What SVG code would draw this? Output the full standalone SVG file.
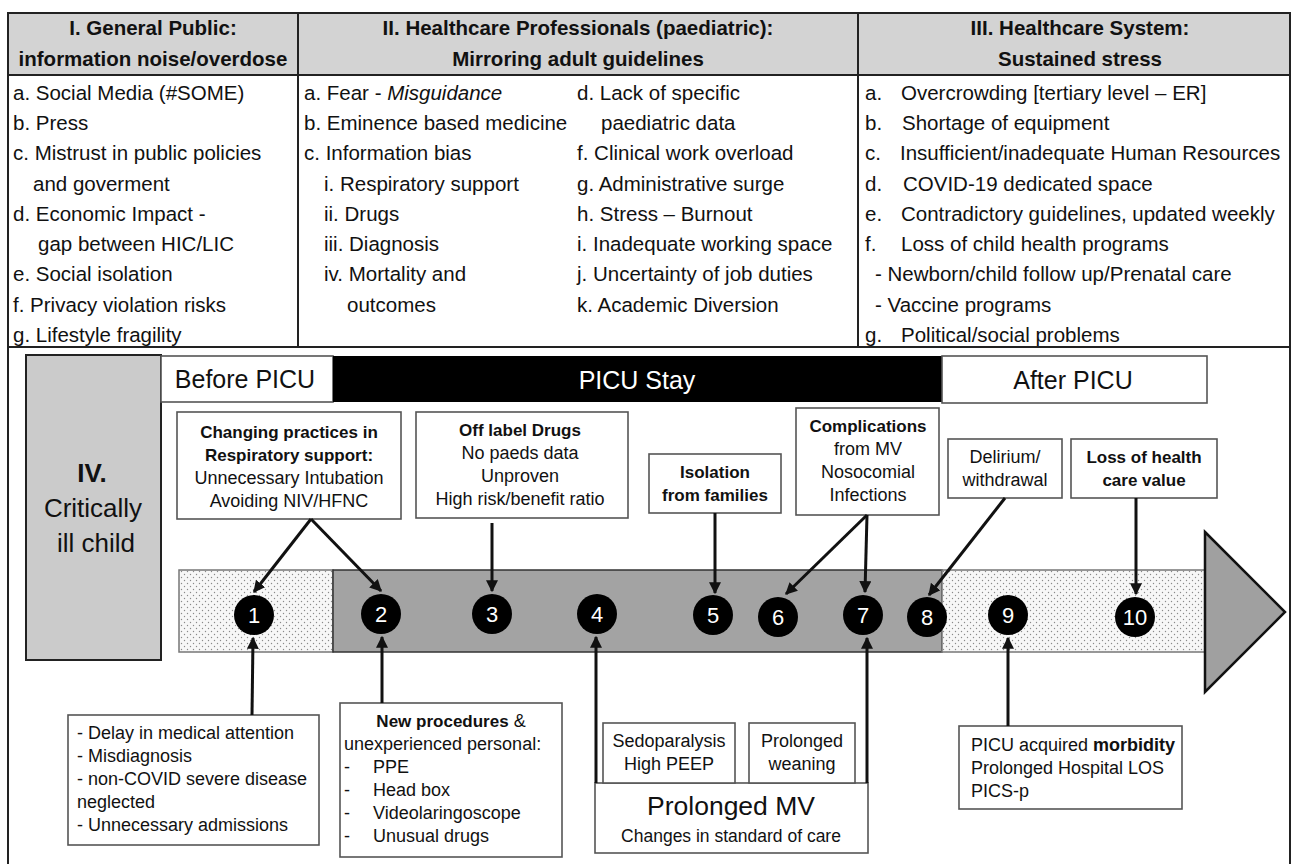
<svg xmlns="http://www.w3.org/2000/svg" width="1293" height="864" viewBox="0 0 1293 864">
<defs>
<style>
text{font-family:"Liberation Sans",Arial,sans-serif;fill:#111}
.b{font-weight:bold}
.tb{font-size:20.5px}
.th{font-size:20.5px;font-weight:bold;text-anchor:middle}
.bx{font-size:18px}
.bb{font-size:17px;font-weight:bold}
.c{text-anchor:middle}
.box{fill:#fff;stroke:#555;stroke-width:1.6}
.ln{stroke:#222;stroke-width:2;fill:none}
.con{stroke:#111;stroke-width:3;fill:none}
.num{font-size:22px;fill:#fff;text-anchor:middle}
.hd{font-size:25px}
</style>
<pattern id="dots" width="6" height="6" patternUnits="userSpaceOnUse">
<rect width="6" height="6" fill="#f7f7f7"/>
<circle cx="1.5" cy="1.5" r="0.7" fill="#8a8a8a"/>
<circle cx="4.5" cy="4.5" r="0.7" fill="#8a8a8a"/>
</pattern>
<marker id="ah" viewBox="0 0 10 10" refX="9" refY="5" markerWidth="12" markerHeight="12" markerUnits="userSpaceOnUse" orient="auto">
<path d="M0,0 L10,5 L0,10 z" fill="#111"/>
</marker>
</defs>
<rect width="1293" height="864" fill="#fff"/>

<g id="table">
<rect x="8" y="13" width="1283" height="62" fill="#d3d3d3"/>
<rect x="8" y="13" width="1282" height="870" class="ln"/>
<line x1="8" y1="75" x2="1291" y2="75" class="ln"/>
<line x1="8" y1="347" x2="1291" y2="347" class="ln"/>
<line x1="298" y1="13" x2="298" y2="347" class="ln"/>
<line x1="858" y1="13" x2="858" y2="347" class="ln"/>
</g>

<g id="col1">
<text class="th" x="153" y="35">I.  General Public:</text>
<text class="th" x="153" y="66">information noise/overdose</text>
<text class="tb" x="13" y="100">a. Social Media (#SOME)</text>
<text class="tb" x="13" y="130">b. Press</text>
<text class="tb" x="13" y="160">c. Mistrust in public policies</text>
<text class="tb" x="33" y="191">and goverment</text>
<text class="tb" x="13" y="221">d. Economic Impact -</text>
<text class="tb" x="38" y="251">gap between HIC/LIC</text>
<text class="tb" x="13" y="281">e. Social isolation</text>
<text class="tb" x="13" y="312">f. Privacy violation risks</text>
<text class="tb" x="13" y="342">g. Lifestyle fragility</text>
</g>

<g id="col2">
<text class="th" x="578" y="35">II. Healthcare Professionals (paediatric):</text>
<text class="th" x="578" y="66">Mirroring adult guidelines</text>
<text class="tb" x="304" y="100">a. Fear - <tspan font-style="italic">Misguidance</tspan></text>
<text class="tb" x="304" y="130">b. Eminence based medicine</text>
<text class="tb" x="304" y="160">c. Information bias</text>
<text class="tb" x="324" y="191">i.  Respiratory support</text>
<text class="tb" x="324" y="221">ii. Drugs</text>
<text class="tb" x="324" y="251">iii. Diagnosis</text>
<text class="tb" x="324" y="281">iv. Mortality and</text>
<text class="tb" x="347" y="312">outcomes</text>
<text class="tb" x="577" y="100">d. Lack of specific</text>
<text class="tb" x="601" y="130">paediatric data</text>
<text class="tb" x="577" y="160">f.  Clinical work overload</text>
<text class="tb" x="577" y="191">g. Administrative surge</text>
<text class="tb" x="577" y="221">h. Stress – Burnout</text>
<text class="tb" x="577" y="251">i.  Inadequate working space</text>
<text class="tb" x="577" y="281">j.  Uncertainty of job duties</text>
<text class="tb" x="577" y="312">k. Academic Diversion</text>
</g>

<g id="col3">
<text class="th" x="1080" y="35">III. Healthcare System:</text>
<text class="th" x="1080" y="66">Sustained stress</text>
<text class="tb" x="865" y="100">a.</text><text class="tb" x="901" y="100">Overcrowding [tertiary level – ER]</text>
<text class="tb" x="865" y="130">b.</text><text class="tb" x="902" y="130">Shortage of equipment</text>
<text class="tb" x="865" y="160">c.</text><text class="tb" x="900" y="160">Insufficient/inadequate Human Resources</text>
<text class="tb" x="865" y="191">d.</text><text class="tb" x="903" y="191">COVID-19 dedicated space</text>
<text class="tb" x="865" y="221">e.</text><text class="tb" x="901" y="221">Contradictory guidelines, updated weekly</text>
<text class="tb" x="865" y="251">f.</text><text class="tb" x="901" y="251">Loss of child health programs</text>
<text class="tb" x="875" y="281">- Newborn/child follow up/Prenatal care</text>
<text class="tb" x="875" y="312">- Vaccine programs</text>
<text class="tb" x="865" y="342">g.</text><text class="tb" x="901" y="342">Political/social problems</text>
</g>

<g id="critically-ill-child">
<rect x="26" y="355" width="135" height="305" fill="#cbcbcb" stroke="#222" stroke-width="2"/>
<text class="c b" x="92" y="482" font-size="26">IV.</text>
<text class="c" x="93" y="517" font-size="26">Critically</text>
<text class="c" x="96" y="552" font-size="26">ill child</text>
</g>

<g id="phases">
<rect x="161" y="356" width="172" height="46" class="box"/>
<text class="hd c" x="245" y="388">Before PICU</text>
<rect x="333" y="356" width="609" height="46" fill="#000"/>
<text class="hd c" x="637" y="389" style="fill:#fff">PICU Stay</text>
<rect x="942" y="356" width="265" height="47" class="box"/>
<text class="hd c" x="1073" y="389">After PICU</text>
</g>

<g id="timeline">
<rect x="179" y="570" width="154" height="82" fill="url(#dots)" stroke="#777" stroke-width="1.5"/>
<rect x="333" y="570" width="609" height="82" fill="#a3a3a3" stroke="#333" stroke-width="1.5"/>
<rect x="942" y="570" width="263" height="82" fill="url(#dots)" stroke="#777" stroke-width="1.5"/>
<polygon points="1205,532 1285,612 1205,692" fill="#a0a0a0" stroke="#111" stroke-width="2.5"/>
</g>

<g id="steps">
<circle cx="254" cy="615" r="20" fill="#000"/><text class="num" x="254" y="623">1</text>
<circle cx="381" cy="614" r="20" fill="#000"/><text class="num" x="381" y="622">2</text>
<circle cx="492" cy="614" r="20" fill="#000"/><text class="num" x="492" y="622">3</text>
<circle cx="597" cy="614" r="20" fill="#000"/><text class="num" x="597" y="622">4</text>
<circle cx="713" cy="615" r="20" fill="#000"/><text class="num" x="713" y="623">5</text>
<circle cx="778" cy="617" r="20" fill="#000"/><text class="num" x="778" y="625">6</text>
<circle cx="863" cy="615" r="20" fill="#000"/><text class="num" x="863" y="623">7</text>
<circle cx="927" cy="617" r="20" fill="#000"/><text class="num" x="927" y="625">8</text>
<circle cx="1008" cy="615" r="20" fill="#000"/><text class="num" x="1008" y="623">9</text>
<circle cx="1135" cy="617" r="20" fill="#000"/><text class="num" x="1135" y="625" font-size="21">10</text>
</g>

<g id="resp-support">
<rect x="177" y="412" width="224" height="107" class="box"/>
<text class="bb c" x="289" y="438">Changing practices in</text>
<text class="bb c" x="289" y="461">Respiratory support:</text>
<text class="bx c" x="289" y="484">Unnecessary Intubation</text>
<text class="bx c" x="289" y="507">Avoiding NIV/HFNC</text>
</g>

<g id="off-label">
<rect x="416" y="412" width="212" height="106" class="box"/>
<text class="bb c" x="520" y="436">Off label Drugs</text>
<text class="bx c" x="520" y="459">No paeds data</text>
<text class="bx c" x="520" y="482">Unproven</text>
<text class="bx c" x="520" y="505">High risk/benefit ratio</text>
</g>

<g id="isolation">
<rect x="649" y="454" width="132" height="59" class="box"/>
<text class="bb c" x="715" y="478">Isolation</text>
<text class="bb c" x="715" y="501">from families</text>
</g>

<g id="complications">
<rect x="796" y="408" width="143" height="107" class="box"/>
<text class="bb c" x="868" y="432">Complications</text>
<text class="bx c" x="868" y="455">from MV</text>
<text class="bx c" x="868" y="478">Nosocomial</text>
<text class="bx c" x="868" y="501">Infections</text>
</g>

<g id="delirium">
<rect x="948" y="439" width="114" height="59" class="box"/>
<text class="bx c" x="1005" y="463">Delirium/</text>
<text class="bx c" x="1005" y="486">withdrawal</text>
</g>

<g id="loss-value">
<rect x="1071" y="439" width="146" height="59" class="box"/>
<text class="bb c" x="1144" y="463">Loss of health</text>
<text class="bb c" x="1144" y="486">care value</text>
</g>

<g id="before-issues">
<rect x="68" y="715" width="251" height="130" class="box"/>
<text class="bx" x="77" y="739">- Delay in medical attention</text>
<text class="bx" x="77" y="762">- Misdiagnosis</text>
<text class="bx" x="77" y="785">- non-COVID severe disease</text>
<text class="bx" x="77" y="808">neglected</text>
<text class="bx" x="77" y="831">- Unnecessary admissions</text>
</g>

<g id="new-procedures">
<rect x="340" y="703" width="222" height="154" class="box"/>
<text class="bx c" x="451" y="727"><tspan class="b" font-size="17">New procedures</tspan> &amp;</text>
<text class="bx" x="344" y="750">unexperienced personal:</text>
<text class="bx" x="344" y="773">-</text><text class="bx" x="373" y="773">PPE</text>
<text class="bx" x="344" y="796">-</text><text class="bx" x="373" y="796">Head box</text>
<text class="bx" x="344" y="819">-</text><text class="bx" x="373" y="819">Videolaringoscope</text>
<text class="bx" x="344" y="842">-</text><text class="bx" x="373" y="842">Unusual drugs</text>
</g>

<g id="prolonged-mv">
<rect x="595" y="783" width="273" height="70" class="box"/>
<text class="c" x="731" y="815" font-size="26.5">Prolonged MV</text>
<text class="c" x="731" y="842" font-size="17.5">Changes in standard of care</text>
</g>

<g id="sedoparalysis">
<rect x="603" y="723" width="132" height="60" class="box"/>
<text class="bx c" x="669" y="747">Sedoparalysis</text>
<text class="bx c" x="669" y="770">High PEEP</text>
</g>

<g id="prolonged-weaning">
<rect x="749" y="723" width="106" height="60" class="box"/>
<text class="bx c" x="802" y="747">Prolonged</text>
<text class="bx c" x="802" y="770">weaning</text>
</g>

<g id="picu-morbidity">
<rect x="959" y="726" width="223" height="83" class="box"/>
<text class="bx" x="971" y="751">PICU acquired <tspan class="b">morbidity</tspan></text>
<text class="bx" x="971" y="774">Prolonged Hospital LOS</text>
<text class="bx" x="971" y="797">PICS-p</text>
</g>

<g id="connectors">
<line x1="311" y1="519" x2="254" y2="592" class="con" marker-end="url(#ah)"/>
<line x1="311" y1="519" x2="381" y2="591" class="con" marker-end="url(#ah)"/>
<line x1="492" y1="523" x2="492" y2="591" class="con" marker-end="url(#ah)"/>
<line x1="715" y1="513" x2="715" y2="593" class="con" marker-end="url(#ah)"/>
<line x1="867" y1="515" x2="786" y2="594" class="con" marker-end="url(#ah)"/>
<line x1="867" y1="515" x2="865" y2="592" class="con" marker-end="url(#ah)"/>
<line x1="1005" y1="498" x2="929" y2="595" class="con" marker-end="url(#ah)"/>
<line x1="1136" y1="498" x2="1136" y2="594" class="con" marker-end="url(#ah)"/>
<line x1="252" y1="715" x2="253" y2="638" class="con" marker-end="url(#ah)"/>
<line x1="382" y1="703" x2="382" y2="637" class="con" marker-end="url(#ah)"/>
<line x1="596" y1="783" x2="596" y2="637" class="con" marker-end="url(#ah)"/>
<line x1="867" y1="783" x2="867" y2="638" class="con" marker-end="url(#ah)"/>
<line x1="1008" y1="726" x2="1008" y2="638" class="con" marker-end="url(#ah)"/>
</g>
</svg>
